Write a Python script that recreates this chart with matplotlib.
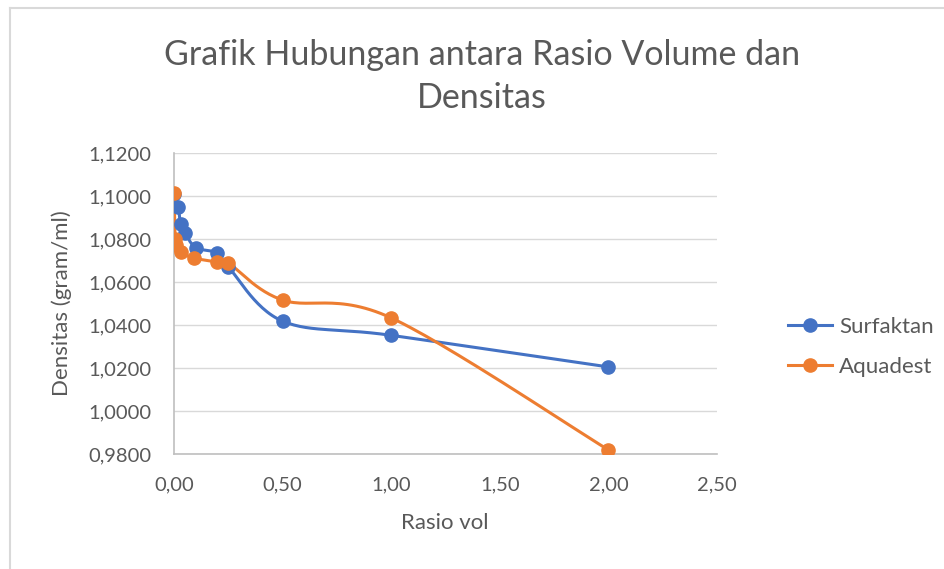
import numpy as np
import matplotlib
matplotlib.use("Agg")
import matplotlib.pyplot as plt
from matplotlib.lines import Line2D

plt.rcParams['font.family'] = ['Lato', 'DejaVu Sans']

# data
surf_x = [0.00, 0.02, 0.03, 0.05, 0.10, 0.20, 0.25, 0.50, 1.00, 2.00]
surf_y = [1.1010, 1.0950, 1.0870, 1.0830, 1.0760, 1.0735, 1.0670, 1.0418, 1.0352, 1.0205]
aqua_x = [0.00, 0.005, 0.01, 0.03, 0.09, 0.20, 0.25, 0.50, 1.00, 2.00]
aqua_y = [1.1015, 1.0800, 1.0770, 1.0740, 1.0712, 1.0693, 1.0688, 1.0516, 1.0433, 0.9819]

x_ticks = [0, 0.5, 1.0, 1.5, 2.0, 2.5]
y_ticks = [0.98, 1.00, 1.02, 1.04, 1.06, 1.08, 1.10, 1.12]

blue = '#4472C4'
orange = '#ED7D31'
gray = '#595959'

fig = plt.figure(figsize=(9.44, 5.69), dpi=100)
ax = fig.add_axes([174/944, 1-454/569, (717-174)/944, (454-153)/569])
ax.set_xlim(0, 2.5)
ax.set_ylim(0.98, 1.12)


def smooth(ax, xs, ys, n=30):
    # catmull-rom style bezier in display space, like excel smoothed lines
    pts = ax.transData.transform(np.column_stack([xs, ys]))
    out = []
    m = len(pts)
    for i in range(m - 1):
        p0 = pts[i - 1] if i > 0 else pts[i]
        p1 = pts[i]
        p2 = pts[i + 1]
        p3 = pts[i + 2] if i + 2 < m else pts[i + 1]
        c1 = p1 + (p2 - p0) / 6
        c2 = p2 - (p3 - p1) / 6
        t = np.linspace(0, 1, n)[:, None]
        seg = (1-t)**3*p1 + 3*(1-t)**2*t*c1 + 3*(1-t)*t**2*c2 + t**3*p2
        out.append(seg)
    out = np.vstack(out)
    return ax.transData.inverted().transform(out)


for xs, ys, c in [(surf_x, surf_y, blue), (aqua_x, aqua_y, orange)]:
    cur = smooth(ax, xs, ys)
    ax.plot(cur[:, 0], cur[:, 1], color=c, lw=2.2, solid_capstyle='round', zorder=3)
    ax.plot(xs, ys, 'o', color=c, ms=9.5, zorder=4)

ax.set_xticks(x_ticks)
ax.set_xticklabels([f"{v:.2f}".replace('.', ',') for v in x_ticks])
ax.set_yticks(y_ticks)
ax.set_yticklabels([f"{v:.4f}".replace('.', ',') for v in y_ticks])
ax.tick_params(length=0, colors=gray, labelsize=14.5)
ax.tick_params(axis='y', pad=16)
ax.tick_params(axis='x', pad=16)
ax.grid(axis='y', color='#d9d9d9', lw=1)
ax.set_axisbelow(True)
for s in ['top', 'right']:
    ax.spines[s].set_visible(False)
for s in ['left', 'bottom']:
    ax.spines[s].set_color('#bfbfbf')
    ax.spines[s].set_linewidth(1.2)

fig.text(445/944, 1-523/569, "Rasio vol", ha='center', va='center',
         color=gray, fontsize=16)
fig.text(62/944, 1-303/569, "Densitas (gram/ml)", ha='center', va='center',
         rotation=90, color=gray, fontsize=16)

fig.text(482/944, 1-55/569, "Grafik Hubungan antara Rasio Volume dan",
         ha='center', va='center', fontsize=24.5, color=gray)
fig.text(482/944, 1-98/569, "Densitas", ha='center', va='center', fontsize=24.5, color=gray)

handles = [Line2D([], [], color=blue, lw=2.2, marker='o', ms=9.5),
           Line2D([], [], color=orange, lw=2.2, marker='o', ms=9.5)]
fig.legend(handles, ["Surfaktan", "Aquadest"], loc='center left',
           bbox_to_anchor=(768/944, 1-347/569), frameon=False, fontsize=16,
           labelcolor=gray, handlelength=2.0, handletextpad=0.3, labelspacing=0.9)

# chart area border
fig.add_artist(Line2D([10/944, 10/944], [0, 1-8/569], color='#d9d9d9', lw=1.5))
fig.add_artist(Line2D([10/944, 1], [1-8/569, 1-8/569], color='#d9d9d9', lw=1.5))

fig.savefig("out.png", dpi=100)
